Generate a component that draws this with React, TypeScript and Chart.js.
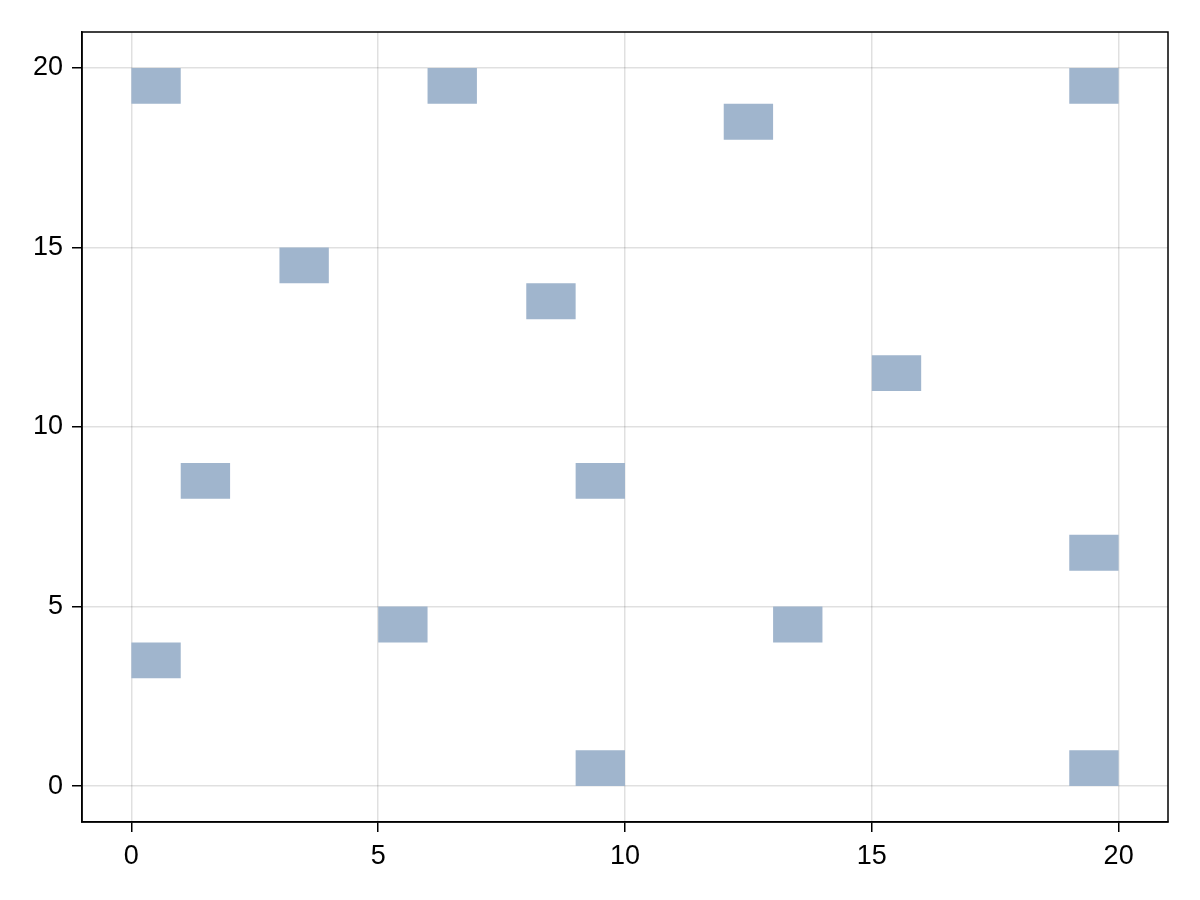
import React, { useEffect, useRef } from "react";
import { Chart, registerables } from "chart.js";

Chart.register(...registerables);

// Lower-left corner of each unit cell
const cellX = [0, 6, 12, 19, 3, 8, 15, 1, 9, 19, 5, 13, 0, 9, 19];
const cellY = [19, 19, 18, 19, 14, 13, 11, 8, 8, 6, 4, 4, 3, 0, 0];
const xTicks = [0, 5, 10, 15, 20];
const yTicks = [0, 5, 10, 15, 20];
const xRange = [-1, 21];
const yRange = [-1, 21];

const CELL_COLOR = "#a0b5cd";
const FONT = { family: "'Liberation Sans', Arial, sans-serif", size: 27 };

const framePlugin = {
  id: "frame",
  afterDraw(chart: any) {
    const { ctx, chartArea } = chart;
    ctx.save();
    ctx.strokeStyle = "#000";
    ctx.lineWidth = 1.5;
    ctx.strokeRect(chartArea.left, chartArea.top, chartArea.right - chartArea.left, chartArea.bottom - chartArea.top);
    ctx.restore();
  },
};

export default function App() {
  const ref = useRef<HTMLCanvasElement>(null);
  useEffect(() => {
    if (!ref.current) return;
    const datasets = cellX.map((x, i) => {
      const y = cellY[i];
      return {
        data: [
          { x: x, y: y },
          { x: x + 1, y: y },
          { x: x + 1, y: y + 1 },
          { x: x, y: y + 1 },
          { x: x, y: y },
        ],
        borderWidth: 0,
        borderColor: CELL_COLOR,
        backgroundColor: CELL_COLOR,
        pointRadius: 0,
        fill: "shape",
        tension: 0,
      };
    });
    const chart = new Chart(ref.current, {
      type: "line",
      data: { datasets: datasets as any },
      options: {
        animation: false,
        responsive: true,
        maintainAspectRatio: false,
        layout: { padding: { top: 32, right: 32, left: 0, bottom: 0 } },
        plugins: { legend: { display: false }, tooltip: { enabled: false } },
        scales: {
          x: {
            type: "linear",
            min: xRange[0],
            max: xRange[1],
            afterBuildTicks: (s: any) => {
              s.ticks = xTicks.map((v) => ({ value: v }));
            },
            afterFit: (s: any) => {
              s.height = 78;
            },
            grid: {
              color: "rgba(0,0,0,0.12)",
              lineWidth: 1.5,
              drawTicks: true,
              tickLength: 10,
              tickColor: "#000",
              tickWidth: 1.5,
            },
            border: { display: true, color: "#000", width: 1.5 },
            ticks: { color: "#000", font: FONT, padding: 8, maxRotation: 0 },
          },
          y: {
            type: "linear",
            min: yRange[0],
            max: yRange[1],
            afterBuildTicks: (s: any) => {
              s.ticks = yTicks.map((v) => ({ value: v }));
            },
            afterFit: (s: any) => {
              s.width = 82;
            },
            grid: {
              color: "rgba(0,0,0,0.12)",
              lineWidth: 1.5,
              drawTicks: true,
              tickLength: 10,
              tickColor: "#000",
              tickWidth: 1.5,
            },
            border: { display: true, color: "#000", width: 1.5 },
            ticks: { color: "#000", font: FONT, padding: 9 },
          },
        },
      },
      plugins: [framePlugin],
    });
    return () => chart.destroy();
  }, []);
  return (
    <div style={{ position: "absolute", left: 0, top: 0, width: 1200, height: 900, background: "#fff" }}>
      <canvas ref={ref} />
    </div>
  );
}
